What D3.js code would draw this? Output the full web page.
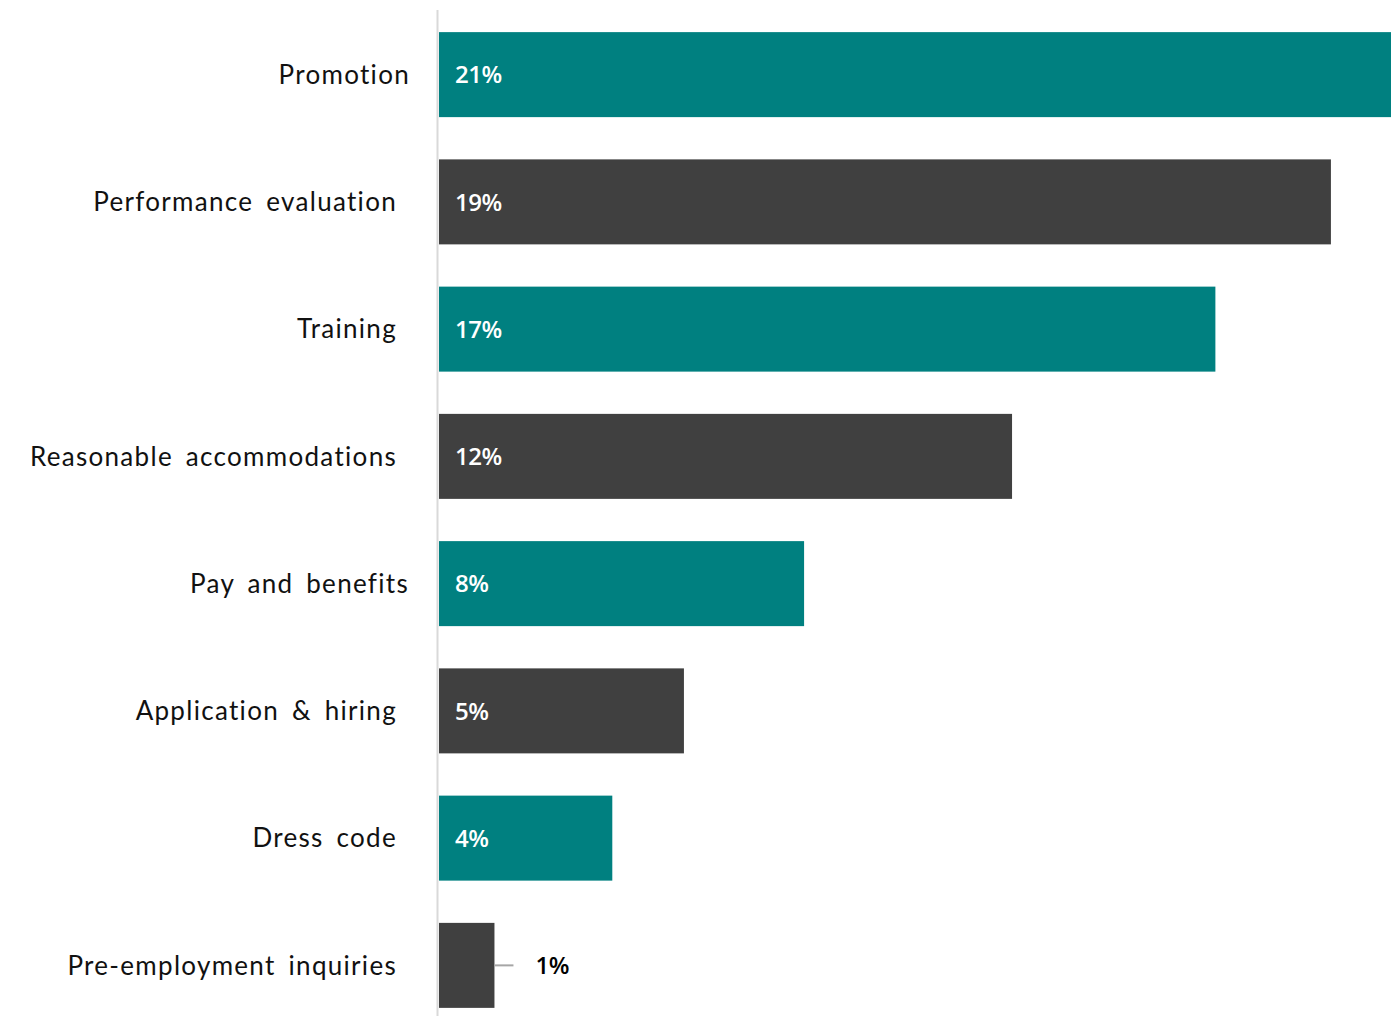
<!DOCTYPE html>
<html>
<head>
<meta charset="utf-8">
<script src="https://cdn.jsdelivr.net/npm/d3@7"></script>
<style>
  html, body { margin: 0; padding: 0; background: #ffffff; }
  svg { display: block; }
</style>
</head>
<body>
<div id="chart"></div>
<script>
// Share of charges by issue (%), top to bottom
const categories = [
  "Promotion",
  "Performance evaluation",
  "Training",
  "Reasonable accommodations",
  "Pay and benefits",
  "Application & hiring",
  "Dress code",
  "Pre-employment inquiries"
];
const values = [20.6, 19.3, 16.8, 12.4, 7.9, 5.3, 3.75, 1.2];
const barColors = ["#008080", "#404040"];

// label boxes for the two short one-line labels sit a little further right
const labelNudge = { "Promotion": 13, "Pay and benefits": 12 };

const width = 1391, height = 1016;
const x0 = 439;

const svg = d3.select("#chart").append("svg")
  .attr("width", width)
  .attr("height", height);

const x = d3.scaleLinear().domain([0, 20.6]).range([x0, width]);
const y = d3.scaleBand().domain(categories).range([11, 1029])
  .paddingInner(0.332).paddingOuter(0.166);

const fmt = v => d3.format(".0f")(v) + "%";

const data = categories.map((c, i) => ({ c, v: values[i], i }));

// bars
svg.append("g").selectAll("rect").data(data).join("rect")
  .attr("x", x(0))
  .attr("y", d => y(d.c))
  .attr("width", d => x(d.v) - x(0))
  .attr("height", y.bandwidth())
  .attr("fill", d => barColors[d.i % 2]);

// vertical axis line
svg.append("line")
  .attr("x1", 437.5).attr("x2", 437.5)
  .attr("y1", 10).attr("y2", height)
  .attr("stroke", "#d9d9d9").attr("stroke-width", 2);

// category labels
svg.append("g").selectAll("text").data(data).join("text")
  .attr("x", d => 397 + (labelNudge[d.c] || 0))
  .attr("y", d => y(d.c) + y.bandwidth() / 2)
  .attr("dy", "0.36em")
  .attr("text-anchor", "end")
  .attr("font-family", "Lato, 'Open Sans', sans-serif")
  .attr("font-size", 26)
  .attr("letter-spacing", 1.3)
  .attr("word-spacing", 5)
  .attr("fill", "#111")
  .text(d => d.c);

// value labels: inside the bar when it is wide enough, outside with a leader otherwise
const inside = d => x(d.v) - x(0) > 100;
const labels = svg.append("g");
labels.selectAll("text").data(data).join("text")
  .attr("x", d => inside(d) ? x(0) + 16 : x(d.v) + 41)
  .attr("y", d => y(d.c) + y.bandwidth() / 2)
  .attr("dy", "0.36em")
  .attr("font-family", "'Open Sans', Lato, sans-serif")
  .attr("font-weight", 600)
  .attr("font-size", 24)
  .attr("letter-spacing", -0.5)
  .attr("fill", d => inside(d) ? "#ffffff" : "#000000")
  .text(d => fmt(d.v));

labels.selectAll("line").data(data.filter(d => !inside(d))).join("line")
  .attr("x1", d => x(d.v)).attr("x2", d => x(d.v) + 19)
  .attr("y1", d => y(d.c) + y.bandwidth() / 2)
  .attr("y2", d => y(d.c) + y.bandwidth() / 2)
  .attr("stroke", "#a6a6a6").attr("stroke-width", 2);
</script>
</body>
</html>
